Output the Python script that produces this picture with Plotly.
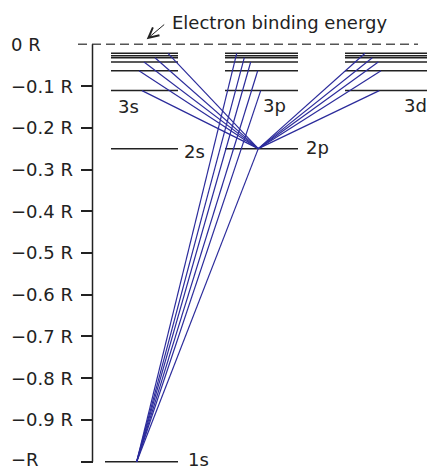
import plotly.graph_objects as go

# ---- data (energies in units of R) ----
tick_vals = [-0.1, -0.2, -0.3, -0.4, -0.5, -0.6, -0.7, -0.8, -0.9, -1.0]
tick_text = ["−0.1 R", "−0.2 R", "−0.3 R", "−0.4 R", "−0.5 R",
             "−0.6 R", "−0.7 R", "−0.8 R", "−0.9 R", "−R"]
upper_levels = [-0.111, -0.0633, -0.0424, -0.0321, -0.0273, -0.0216]  # n = 3, 4, 5, ...
E2 = -0.25
E1 = -1.0

# column extents (horizontal position units)
s_col = [111, 178]
p_col = [225, 298]
d_col = [345, 427]
s1_col = [105, 178]

# transition end points on the upper levels
trans_levels = [0, 1, 2, 3, 5]
s_end_x = [142, 139, 144, 155, 168]
p_end_x = [260.7, 257.7, 250.7, 244.3, 236.7]
d_end_x = [379.3, 381, 378.3, 372.3, 365]
x2p = 258.3
x1s = 136.7

LEVEL = "#222222"
BLUE = "#2b2b9b"
FONT = "DejaVu Sans"
FS = 18

fig = go.Figure()

# levels
def seg(col, e):
    return [col[0], col[1], None], [e, e, None]

lx, ly = [], []
for col in (s_col, p_col, d_col):
    for e in upper_levels:
        a, b = seg(col, e); lx += a; ly += b
for col in (s_col, p_col):
    a, b = seg(col, E2); lx += a; ly += b
a, b = seg(s1_col, E1); lx += a; ly += b
fig.add_trace(go.Scatter(x=lx, y=ly, mode="lines",
                         line=dict(color=LEVEL, width=1.5), hoverinfo="skip"))

# transitions
tx, ty = [], []
for xs, in [(s_end_x,), (d_end_x,)]:
    for i, li in enumerate(trans_levels):
        tx += [x2p, xs[i], None]; ty += [E2, upper_levels[li], None]
for i, li in enumerate(trans_levels):
    tx += [x1s, p_end_x[i], None]; ty += [E1, upper_levels[li], None]
tx += [x1s, x2p, None]; ty += [E1, E2, None]
fig.add_trace(go.Scatter(x=tx, y=ty, mode="lines",
                         line=dict(color=BLUE, width=1.2), hoverinfo="skip"))

shapes = [
    dict(type="line", xref="x", yref="y", x0=78, x1=418, y0=0, y1=0,
         line=dict(color="#555555", width=1.5, dash="9px,5px")),
    dict(type="line", xref="x", yref="y", x0=92.5, x1=92.5, y0=0, y1=E1,
         line=dict(color=LEVEL, width=1.5)),
]

ann = []
for v, t in zip([0.0] + tick_vals, ["0 R"] + tick_text):
    ann.append(dict(x=9, y=v, xref="x", yref="y", text=t, showarrow=False,
                    xanchor="left", yanchor="middle",
                    yshift=2 if v == E1 else 0,
                    font=dict(family=FONT, size=FS, color="#222")))

labels = [("3s", 116, -0.148), ("3p", 261, -0.146), ("3d", 402, -0.146),
          ("2s", 182, -0.257), ("2p", 304, -0.248), ("1s", 186, -1.0)]
for t, x, y in labels:
    ann.append(dict(x=x, y=y, xref="x", yref="y", text=t, showarrow=False,
                    xanchor="left", yanchor="middle",
                    yshift=2 if y == E1 else 0,
                    font=dict(family=FONT, size=FS, color="#222")))

ann.append(dict(x=170, y=0.0534, xref="x", yref="y", text="Electron binding energy",
                showarrow=False, xanchor="left", yanchor="middle",
                font=dict(family=FONT, size=FS, color="#222")))
ann.append(dict(x=146.7, y=0.012, xref="x", yref="y", ax=165.7, ay=0.0503,
                axref="x", ayref="y", text="", showarrow=True,
                arrowhead=5, arrowsize=2, arrowwidth=1, arrowcolor="#222"))

fig.update_layout(
    width=427, height=470, margin=dict(l=0, r=0, t=0, b=0),
    paper_bgcolor="white", plot_bgcolor="white", showlegend=False,
    xaxis=dict(range=[0, 427], visible=False, fixedrange=True),
    yaxis=dict(range=[-1.0199, 0.1061], anchor="free", position=92.5 / 427,
               tickvals=tick_vals, showticklabels=False, ticks="outside",
               ticklen=12, tickwidth=1.5, tickcolor=LEVEL,
               showgrid=False, zeroline=False, showline=False, fixedrange=True),
    shapes=shapes, annotations=ann,
)
fig.write_html("out.html", config={"displayModeBar": False},
               post_script="document.body.style.margin='0';document.body.style.overflow='hidden';")
